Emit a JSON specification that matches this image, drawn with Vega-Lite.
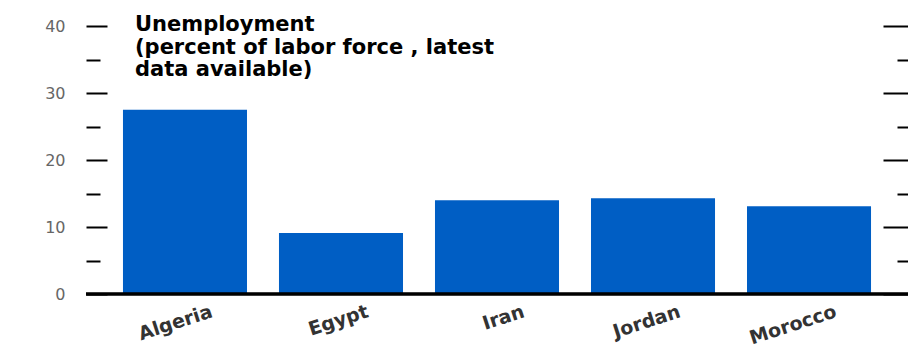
{
  "$schema": "https://vega.github.io/schema/vega-lite/v6.json",
  "width": 822,
  "height": 268,
  "autosize": {"type": "none"},
  "padding": {"left": 86, "right": 0, "top": 26, "bottom": 56},
  "background": "white",
  "config": {
    "view": {"stroke": null},
    "font": "DejaVu Sans"
  },
  "title": {
    "text": ["Unemployment", "(percent of labor force , latest", "data available)"],
    "anchor": "start",
    "frame": "group",
    "orient": "top",
    "dx": 49,
    "offset": -62,
    "font": "DejaVu Sans",
    "fontSize": 21,
    "fontWeight": "bold",
    "lineHeight": 22.5,
    "color": "#000000"
  },
  "data": {
    "values": [
      {"country": "Algeria", "rate": 27.5},
      {"country": "Egypt", "rate": 9.1},
      {"country": "Iran", "rate": 14.0},
      {"country": "Jordan", "rate": 14.3},
      {"country": "Morocco", "rate": 13.1}
    ]
  },
  "resolve": {"axis": {"y": "independent"}},
  "layer": [
    {
      "mark": {"type": "bar", "color": "#005EC4"},
      "encoding": {
        "x": {
          "field": "country",
          "type": "nominal",
          "sort": null,
          "scale": {"paddingInner": 0.205, "paddingOuter": 0.237},
          "axis": {
            "title": null,
            "ticks": false,
            "domain": false,
            "labelAngle": -18,
            "labelAlign": "right",
            "labelBaseline": "top",
            "labelOffset": 24,
            "labelPadding": 8,
            "labelFont": "DejaVu Sans",
            "labelFontSize": 19,
            "labelFontWeight": "bold",
            "labelColor": "#333333"
          }
        },
        "y": {
          "field": "rate",
          "type": "quantitative",
          "scale": {"domain": [0, 40], "nice": false},
          "axis": {
            "orient": "left",
            "title": null,
            "grid": false,
            "domain": false,
            "values": [0, 5, 10, 15, 20, 25, 30, 35, 40],
            "tickColor": "#000000",
            "tickWidth": 2,
            "tickSize": {"condition": {"test": "datum.value % 10 === 0", "value": -21}, "value": -14},
            "labelExpr": "datum.value % 10 === 0 ? datum.label : ''",
            "labelPadding": 42,
            "labelFont": "DejaVu Sans",
            "labelFontSize": 16,
            "labelColor": "#666666"
          }
        }
      }
    },
    {
      "mark": {"type": "rule", "color": "#000000", "strokeWidth": 2.5},
      "encoding": {
        "y": {
          "datum": 0,
          "type": "quantitative",
          "axis": {
            "orient": "right",
            "title": null,
            "grid": false,
            "domain": false,
            "labels": false,
            "values": [0, 5, 10, 15, 20, 25, 30, 35, 40],
            "tickColor": "#000000",
            "tickWidth": 2,
            "tickSize": {"condition": {"test": "datum.value % 10 === 0", "value": -25}, "value": -11}
          }
        }
      }
    }
  ]
}
